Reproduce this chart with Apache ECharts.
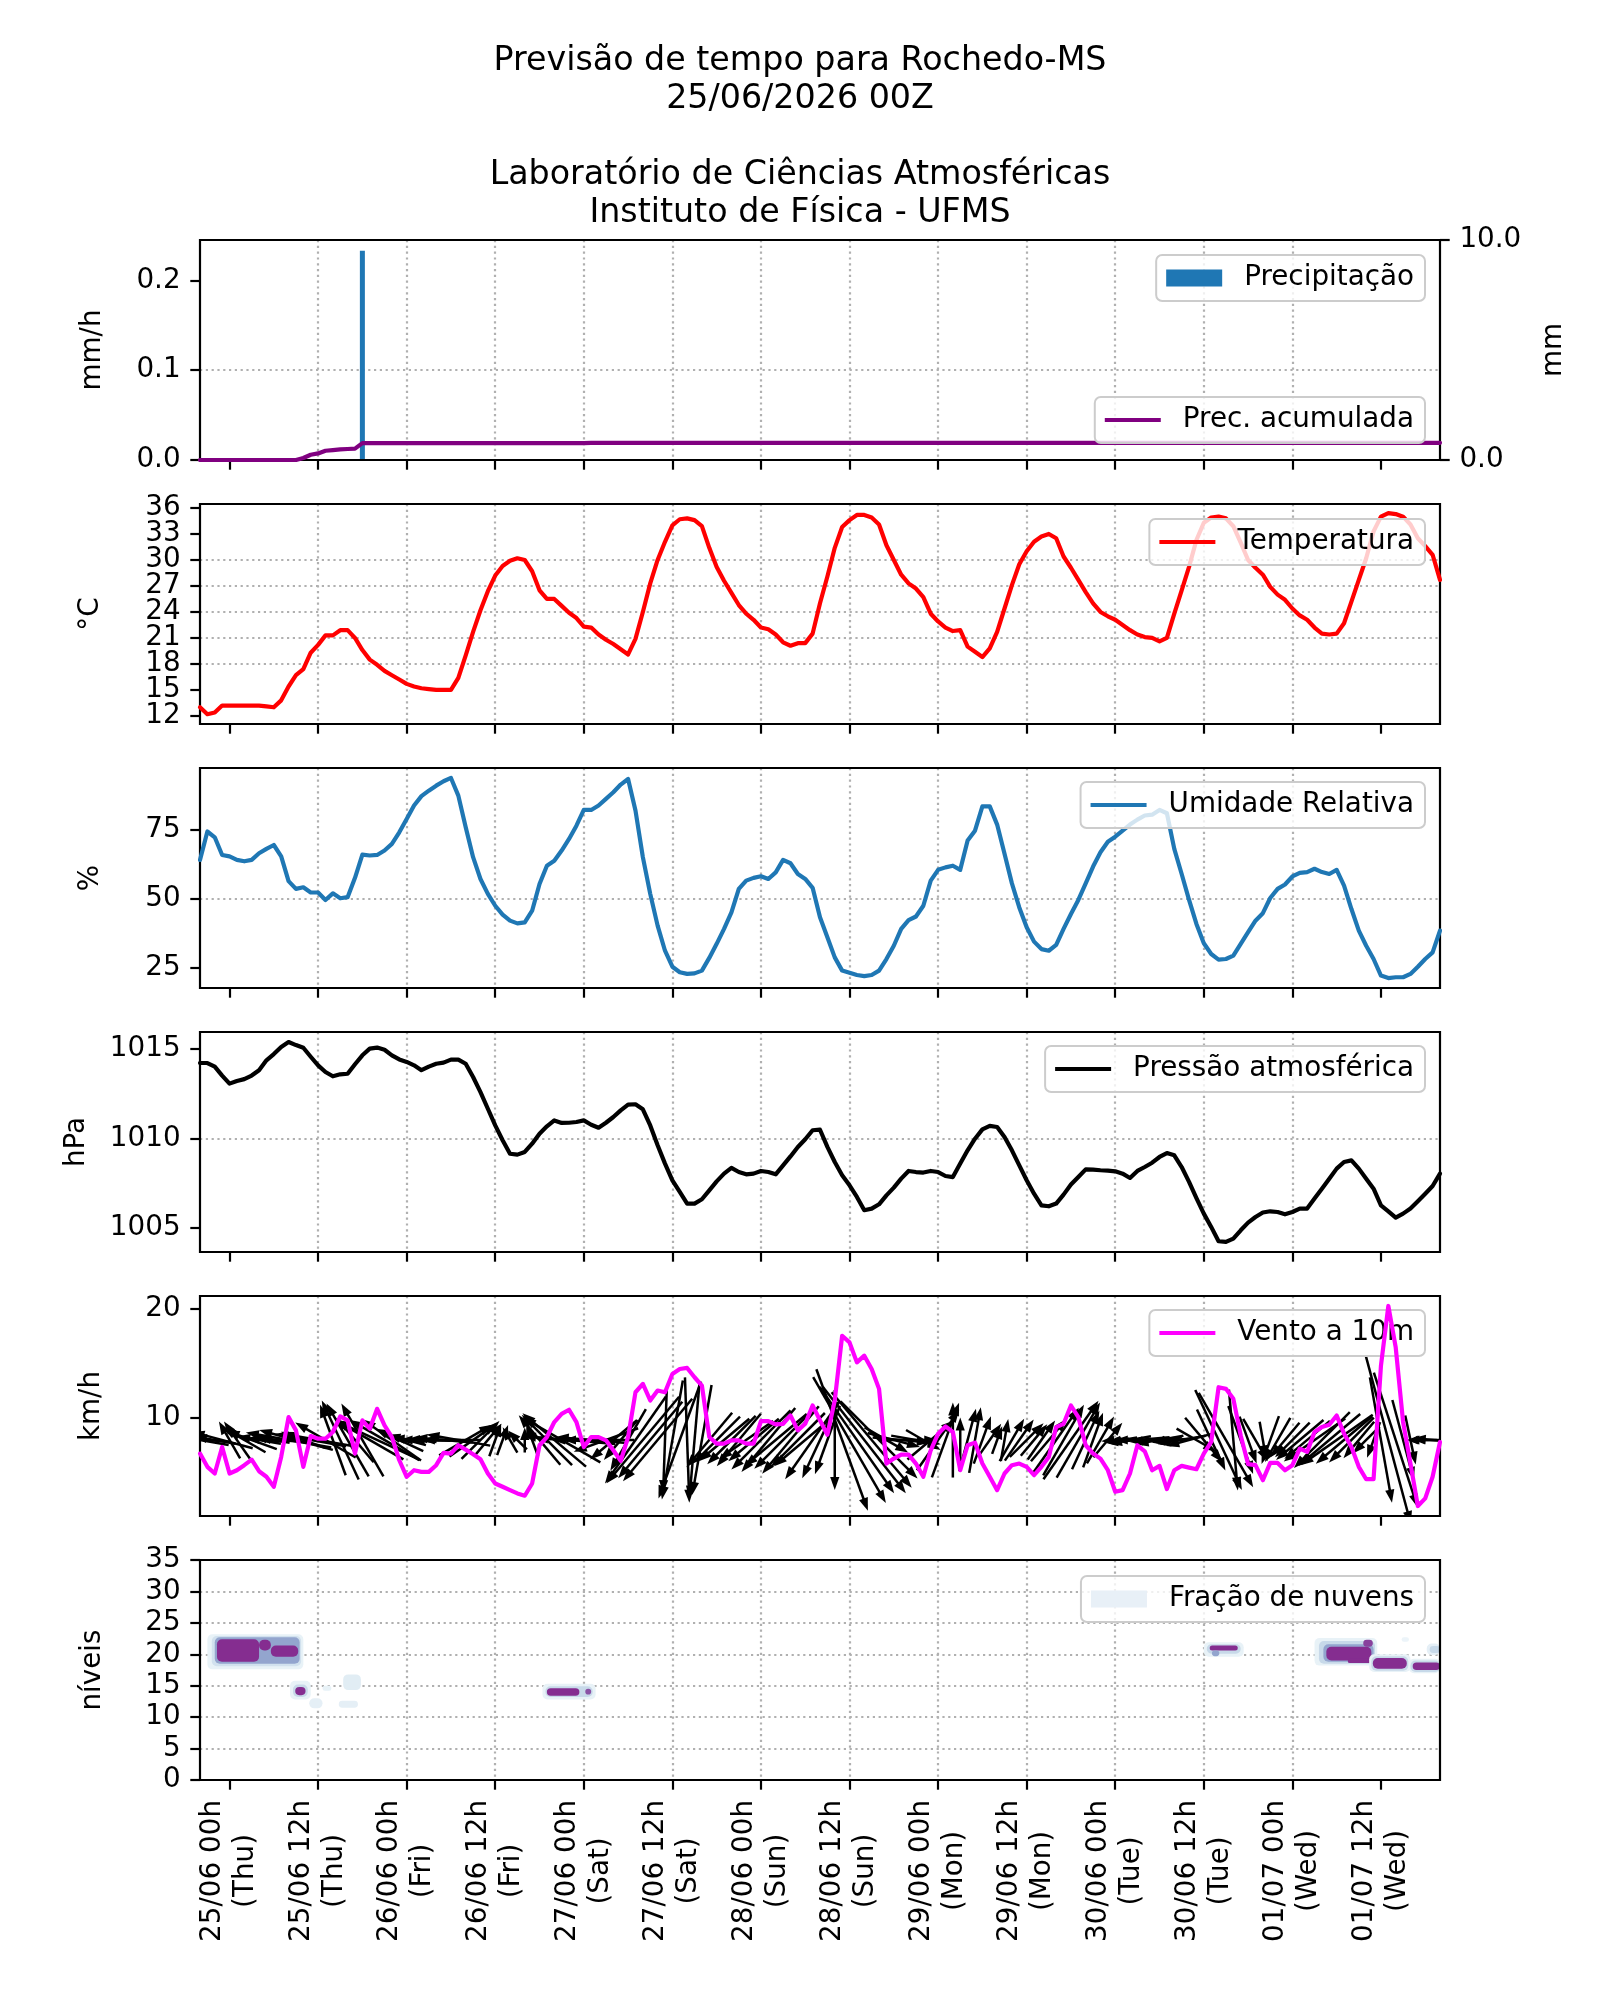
<!DOCTYPE html>
<html><head><meta charset="utf-8">
<script src="https://cdn.jsdelivr.net/npm/echarts@6/dist/echarts.min.js"></script>
<style>html,body{margin:0;padding:0;background:#fff}#c{width:1600px;height:2000px}</style>
</head><body><div id="c"></div>
<script>
// ---------- DATA (index = hours since 24/06 20h local) ----------
const xTickHours = [4,16,28,40,52,64,76,88,100,112,124,136,148,160];
const xTickDates = ['25/06 00h','25/06 12h','26/06 00h','26/06 12h','27/06 00h','27/06 12h','28/06 00h','28/06 12h','29/06 00h','29/06 12h','30/06 00h','30/06 12h','01/07 00h','01/07 12h'];
const xTickDays = ['(Thu)','(Thu)','(Fri)','(Fri)','(Sat)','(Sat)','(Sun)','(Sun)','(Mon)','(Mon)','(Tue)','(Tue)','(Wed)','(Wed)'];
const tempTicksA = [12,18,24,30,36];
const tempTicksB = [15,21,27,33];

const precipRate = [[22, 0.233]];               // [hour, mm/h]
const precipAccum = [[0,0],[13,0],[14,0.09],[15,0.24],[16,0.30],[17,0.42],[18,0.45],[19,0.48],[20,0.50],[21,0.52],[22,0.77],[52,0.77],[53,0.78],[168,0.78]];

const temperature = [13.0,12.2,12.4,13.2,13.2,13.2,13.2,13.2,13.2,13.1,13.0,13.8,15.4,16.7,17.4,19.3,20.2,21.3,21.3,21.9,
21.9,21.0,19.6,18.5,17.9,17.2,16.7,16.2,15.7,15.4,15.2,15.1,15.0,15.0,15.0,16.4,19.0,21.7,24.2,26.4,
28.2,29.3,29.9,30.2,30.0,28.7,26.5,25.5,25.5,24.7,23.9,23.3,22.3,22.2,21.4,20.8,20.3,19.7,19.1,20.9,
24.0,27.3,30.0,32.1,34.0,34.7,34.8,34.6,33.9,31.4,29.2,27.6,26.2,24.8,23.8,23.1,22.2,22.0,21.4,20.5,
20.1,20.4,20.4,21.5,25.0,28.1,31.4,33.8,34.6,35.2,35.2,34.9,34.1,31.7,30.0,28.3,27.3,26.7,25.7,23.8,
22.9,22.2,21.8,21.9,20.0,19.4,18.8,19.8,21.7,24.4,27.1,29.5,31.0,32.1,32.7,33.0,32.5,30.4,29.1,27.7,
26.3,25.0,24.0,23.5,23.1,22.5,21.9,21.4,21.1,21.0,20.6,21.0,23.8,26.5,29.2,32.3,34.3,34.9,35.0,34.8,
33.9,32.0,30.0,29.1,28.3,26.9,26.0,25.4,24.4,23.6,23.1,22.2,21.5,21.4,21.5,22.7,25.2,27.7,30.2,33.3,
35.0,35.4,35.3,35.0,34.1,32.5,31.6,30.6,27.7];

const humidity = [63.9,74.2,72.1,65.7,65.2,63.9,63.4,63.9,66.3,67.9,69.3,65.2,56.2,53.4,54.0,52.1,52.1,49.4,51.8,50.0,
50.4,57.4,65.8,65.5,65.7,67.3,69.7,73.9,78.7,83.6,87.0,89.0,90.8,92.4,93.6,87.2,75.7,64.9,57.0,51.6,
47.3,44.1,41.9,40.9,41.3,45.5,55.2,61.8,63.6,67.3,71.5,76.3,82.0,82.0,83.6,86.0,88.4,91.2,93.2,81.8,
64.9,51.6,40.1,31.0,25.2,23.2,22.6,22.8,23.8,28.4,33.5,38.9,44.9,53.4,56.4,57.4,58.0,57.0,59.4,63.9,
62.7,58.8,57.0,53.8,43.1,35.9,28.6,23.8,23.0,22.2,21.8,22.2,23.8,28.0,32.8,38.9,42.1,43.4,47.3,56.4,
60.3,61.2,61.8,60.3,70.9,74.5,83.3,83.3,76.7,66.1,55.4,46.7,39.5,34.3,31.6,31.0,33.1,38.9,44.3,49.4,
55.4,61.5,66.7,70.5,72.3,74.5,76.7,78.5,80.0,80.3,82.0,80.8,67.9,58.8,49.4,40.7,33.7,29.8,27.8,28.0,
29.2,33.5,37.7,41.9,44.6,50.1,53.4,55.0,57.9,59.2,59.5,60.7,59.5,58.8,60.3,54.6,46.1,38.3,32.8,28.0,
22.0,21.1,21.4,21.4,22.6,25.2,28.0,30.4,38.3];

const pressure = [1014.2,1014.2,1014.0,1013.5,1013.05,1013.2,1013.3,1013.5,1013.8,1014.35,1014.7,1015.1,1015.37,1015.2,1015.05,1014.55,1014.07,1013.7,1013.46,1013.57,
1013.6,1014.13,1014.63,1015.0,1015.06,1014.94,1014.63,1014.4,1014.26,1014.07,1013.8,1014.0,1014.16,1014.22,1014.39,1014.39,1014.16,1013.42,1012.58,1011.65,
1010.72,1009.89,1009.14,1009.09,1009.24,1009.7,1010.26,1010.67,1011.0,1010.86,1010.87,1010.91,1011.0,1010.76,1010.59,1010.87,1011.19,1011.56,1011.88,1011.9,
1011.62,1010.72,1009.61,1008.59,1007.66,1007.01,1006.36,1006.36,1006.6,1007.1,1007.6,1008.03,1008.35,1008.12,1007.99,1008.03,1008.18,1008.12,1007.99,1008.49,
1008.99,1009.52,1009.95,1010.45,1010.48,1009.52,1008.68,1007.94,1007.38,1006.73,1005.99,1006.08,1006.32,1006.82,1007.25,1007.75,1008.18,1008.12,1008.09,1008.18,
1008.12,1007.9,1007.84,1008.59,1009.33,1009.98,1010.5,1010.69,1010.63,1010.07,1009.33,1008.49,1007.66,1006.91,1006.26,1006.21,1006.36,1006.86,1007.42,1007.84,
1008.27,1008.25,1008.22,1008.2,1008.16,1008.03,1007.79,1008.18,1008.4,1008.64,1008.96,1009.18,1009.05,1008.4,1007.57,1006.67,1005.8,1005.06,1004.26,1004.22,
1004.41,1004.87,1005.3,1005.61,1005.86,1005.93,1005.89,1005.76,1005.89,1006.08,1006.08,1006.64,1007.19,1007.75,1008.31,1008.68,1008.77,1008.31,1007.75,1007.19,
1006.26,1005.93,1005.58,1005.8,1006.08,1006.49,1006.91,1007.34,1008.03];

const windSpeed = [6.76,5.55,4.94,7.36,4.94,5.24,5.7,6.21,5.15,4.64,3.73,6.45,10.09,8.88,5.55,8.36,8.12,8.12,8.73,10.15,
9.79,6.76,9.79,9.03,10.85,9.33,8.27,6.15,4.64,5.24,5.09,5.09,5.7,6.82,6.76,7.52,7.12,6.7,6.24,4.94,
4.03,3.73,3.42,3.12,2.91,4.03,7.52,8.27,9.64,10.39,10.76,9.64,7.36,8.27,8.27,7.97,7.06,6.09,8.27,12.36,
13.12,11.61,12.52,12.36,14.03,14.48,14.58,13.73,12.97,8.27,7.67,7.67,7.97,7.97,7.67,7.67,9.73,9.73,9.42,9.48,
10.24,8.88,9.48,11.15,9.79,8.48,11.61,17.52,16.91,15.09,15.7,14.48,12.67,5.85,6.3,6.67,6.67,5.85,4.64,7.06,
8.58,9.24,8.73,5.24,7.52,7.76,5.85,4.64,3.42,4.94,5.7,5.85,5.55,4.79,5.55,6.45,9.18,9.48,11.15,10.09,
7.52,6.76,6.3,5.24,3.27,3.42,4.94,7.52,6.97,5.24,5.64,3.52,5.24,5.64,5.48,5.33,6.76,7.82,12.82,12.67,
11.76,8.42,5.79,5.7,4.33,5.91,5.91,5.24,5.7,7.21,6.91,8.73,9.18,9.39,10.24,8.58,7.36,5.55,4.42,4.42,
14.79,20.24,16.45,9.64,5.85,1.97,2.67,4.64,7.82];

// meteorological direction the wind comes FROM (degrees)
const windDir = [100,95,100,105,150,145,120,110,100,95,100,95,100,105,110,100,100,120,160,155,
150,140,150,120,115,120,125,115,105,95,90,92,90,95,90,100,240,235,225,220,
200,200,150,135,180,160,140,135,130,120,95,92,90,95,90,70,50,40,30,35,
40,40,40,2,10,20,358,5,10,40,45,50,45,40,55,50,45,40,50,45,
40,45,50,35,25,20,0,340,330,325,322,320,315,300,285,275,270,280,300,230,
215,200,180,180,195,190,200,215,200,190,210,215,225,220,215,220,215,210,215,210,
205,200,210,220,85,80,80,85,90,85,80,80,85,80,75,300,320,335,335,330,
355,340,340,330,350,20,30,40,45,50,50,55,45,50,55,50,45,40,45,20,
350,345,342,345,348,85,90,95,90];

// cloud-fraction regions: [hourStart, hourEnd, levelLow, levelHigh, fraction]
const cloudRegions = [
 [1.0,14.0,17.6,23.2,0.08],[1.6,13.7,18.1,22.9,0.18],[2.0,13.5,18.5,22.7,0.45],
 [2.3,8.0,18.8,22.4,0.8],[8.0,9.6,20.6,22.3,0.8],[9.6,13.3,19.6,21.4,0.8],
 [12.2,15.0,12.8,15.8,0.08],[12.6,14.6,13.2,15.2,0.22],[12.9,14.3,13.5,14.8,0.8],
 [14.8,16.6,11.4,13.0,0.1],[18.8,21.4,11.5,12.6,0.1],[19.4,21.8,14.3,16.8,0.12],[16.6,17.8,14.2,15.0,0.08],
 [46.4,53.6,12.8,15.3,0.08],[46.8,53.2,13.2,14.9,0.22],[47.0,51.4,13.4,14.6,0.8],[52.2,53.0,13.6,14.5,0.7],
 [136.0,141.4,19.6,21.9,0.08],[136.4,141.0,20.1,21.6,0.22],[136.8,140.6,20.6,21.4,0.8],[137.1,138.1,19.7,20.6,0.45],
 [151.0,159.5,18.2,22.6,0.08],[151.6,159.2,18.5,22.1,0.22],[152.2,159.0,18.8,21.6,0.45],[152.6,158.7,19.0,21.2,0.8],
 [157.6,158.9,21.2,22.3,0.75],[155.5,158.8,18.6,19.3,0.8],
 [158.4,164.0,17.2,20.0,0.08],[158.7,163.7,17.4,19.7,0.22],[158.9,163.5,17.7,19.4,0.8],
 [163.8,168,17.0,19.3,0.08],[164.0,168,17.2,19.0,0.22],[164.3,168,17.5,18.7,0.8],
 [166.2,168,19.9,21.7,0.1],[166.6,168,20.2,21.3,0.22],[162.8,163.8,22.0,22.7,0.06]
];

// ---------- STYLE / LAYOUT ----------
const FF = 'DejaVu Sans';
const FS = 27.8;
const LEFT = 200, WIDTH = 1240, TOP0 = 240, STEP = 264, HEIGHT = 220;
const ARROW_Y = 8, ARROW_PX = 8.6;
const gridLine = {show:true, showMinLine:false, showMaxLine:false, lineStyle:{color:'#b0b0b0', width:2.2, type:[2.2,3.6]}};
const tick = {show:true, inside:false, length:9.7, lineStyle:{color:'#000', width:2.2}};

const BUPU = ['#f7fcfd','#e0ecf4','#bfd3e6','#9ebcda','#8c96c6','#8c6bb1','#88419d','#810f7c','#4d004b'];
function hex(c){return [parseInt(c.substr(1,2),16),parseInt(c.substr(3,2),16),parseInt(c.substr(5,2),16)];}
function bupu(t){
  t=Math.max(0,Math.min(1,t)); const p=t*(BUPU.length-1); const i=Math.min(BUPU.length-2,Math.floor(p)); const f=p-i;
  const a=hex(BUPU[i]), b=hex(BUPU[i+1]);
  return 'rgb('+a.map((v,k)=>Math.round(v+(b[k]-v)*f)).join(',')+')';
}

const grids=[], xAxes=[];
for(let i=0;i<6;i++){
  grids.push({left:LEFT, width:WIDTH, top:TOP0+STEP*i, height:HEIGHT, show:true, borderColor:'#000', borderWidth:2.2, backgroundColor:'transparent', z:3});
  xAxes.push({
    type:'value', gridIndex:i, min:0, max:168,
    axisLine:{show:false},
    axisTick:Object.assign({customValues:xTickHours}, tick),
    splitLine:gridLine,
    axisLabel:{
      show:i===5, customValues:xTickHours, rotate:90, margin:20,
      formatter:function(v){const k=xTickHours.indexOf(Math.round(v)); if(k<0) return ''; return '{a|'+xTickDates[k]+'}\n{a|'+xTickDays[k]+'}';},
      rich:{a:{align:'center', fontFamily:FF, fontSize:FS, lineHeight:33, color:'#000'}},
      fontFamily:FF, fontSize:FS, color:'#000'
    }
  });
}

function yax(gi, min, max, ticks, name, gap, fmt, extra){
  return Object.assign({
    type:'value', gridIndex:gi, min:min, max:max,
    axisLine:{show:false},
    axisTick:Object.assign({customValues:ticks}, tick),
    axisLabel:{customValues:ticks, margin:19.4, fontFamily:FF, fontSize:FS, lineHeight:18, color:'#000', formatter:fmt||function(v){return String(v);}},
    splitLine:gridLine,
    name:name, nameLocation:'middle', nameGap:gap,
    nameTextStyle:{fontFamily:FF, fontSize:FS, color:'#000'}
  }, extra||{});
}

const yAxes = [
  yax(0, 0, 0.245, [0,0.1,0.2], 'mm/h', 93, v=>v.toFixed(1)),
  yax(0, 0, 10, [0,10], 'mm', 100, v=>v.toFixed(1), {position:'right', splitLine:{show:false}}),
  yax(1, 11.07, 36.46, tempTicksA, '°C', 95),
  yax(2, 17.5, 97.2, [25,50,75], '%', 95),
  yax(3, 1003.66, 1015.93, [1005,1010,1015], 'hPa', 109),
  yax(4, 1.06, 21.15, [10,20], 'km/h', 94),
  yax(5, 0, 35, [0,5,10,15,20,25,30,35], 'níveis', 93),
  yax(1, 11.07, 36.46, tempTicksB, '', 95, null, {position:'left', offset:0})
];

function lg(name, top, iw, ih){
  return {data:[name], right:175, top:top, icon:'rect', itemWidth:iw, itemHeight:ih,
    padding:[8,11,8,10], backgroundColor:'rgba(255,255,255,0.8)', borderColor:'#cccccc', borderWidth:2, borderRadius:6,
    selectedMode:false, textStyle:{fontFamily:FF, fontSize:FS, color:'#000', lineHeight:30, padding:[0,0,0,17]}};
}
const legends = [
  lg('Precipitação', 255, 56, 17),
  lg('Prec. acumulada', 397, 56, 4.2),
  lg('Temperatura', TOP0+STEP*1+15, 56, 4.2),
  lg('Umidade Relativa', TOP0+STEP*2+14, 56, 4.2),
  lg('Pressão atmosférica', TOP0+STEP*3+14, 56, 4.2),
  lg('Vento a 10m', TOP0+STEP*4+14, 56, 4.2),
  lg('Fração de nuvens', TOP0+STEP*5+16, 56, 17)
];

function lineSeries(name, xi, yi, data, color, z){
  return {type:'line', name:name, xAxisIndex:xi, yAxisIndex:yi, data:data, color:color,
    symbol:'none', showSymbol:false, lineStyle:{color:color, width:4.2, join:'round', cap:'round'}, z:z||3, animation:false};
}
const idx = a => a.map((v,i)=>[i,v]);

const series = [
  {type:'bar', name:'Precipitação', xAxisIndex:0, yAxisIndex:0, data:precipRate, barWidth:5, color:'#1f77b4', itemStyle:{color:'#1f77b4'}, animation:false},
  lineSeries('Prec. acumulada', 0, 1, precipAccum, '#800080'),
  lineSeries('Temperatura', 1, 2, idx(temperature), '#ff0000'),
  lineSeries('Umidade Relativa', 2, 3, idx(humidity), '#1f77b4'),
  lineSeries('Pressão atmosférica', 3, 4, idx(pressure), '#000000'),
  {type:'custom', name:'arrows', xAxisIndex:4, yAxisIndex:5, z:2, animation:false, clip:true,
    dimensions:['h','dir','spd'], encode:{x:'h', y:'spd'},
    data: windDir.map((d,i)=>[i,d,windSpeed[i]]),
    renderItem:function(params, api){
      const h=api.value(0), d=api.value(1)*Math.PI/180, s=api.value(2);
      const c=api.coord([h, ARROW_Y]);
      const L=s*ARROW_PX;
      const ux=-Math.sin(d), uy=Math.cos(d);
      const tx=c[0]-ux*L/2, ty=c[1]-uy*L/2, px=c[0]+ux*L/2, py=c[1]+uy*L/2;
      const hl=Math.min(13, L*0.5), hw=4.6;
      const bx=px-ux*hl, by=py-uy*hl, nx=-uy, ny=ux;
      return {type:'group', children:[
        {type:'line', shape:{x1:tx,y1:ty,x2:bx+ux*1,y2:by+uy*1}, style:{stroke:'#000', lineWidth:2.5}},
        {type:'polygon', shape:{points:[[px,py],[bx+nx*hw,by+ny*hw],[bx-nx*hw,by-ny*hw]]}, style:{fill:'#000'}}
      ]};
    }},
  lineSeries('Vento a 10m', 4, 5, idx(windSpeed), '#ff00ff', 4),
  {type:'custom', name:'Fração de nuvens', xAxisIndex:5, yAxisIndex:6, z:2, animation:false, clip:true,
    itemStyle:{color:'#e8f0f7'}, color:'#e8f0f7',
    dimensions:['h0','h1','l0','l1','f'], encode:{x:['h0','h1'], y:['l0','l1']},
    data:cloudRegions,
    renderItem:function(params, api){
      const p0=api.coord([api.value(0), api.value(3)]), p1=api.coord([api.value(1), api.value(2)]);
      return {type:'rect', shape:{x:p0[0], y:p0[1], width:p1[0]-p0[0], height:p1[1]-p0[1], r:5}, style:{fill:bupu(api.value(4))}};
    }}
];

const chart = echarts.init(document.getElementById('c'), null, {width:1600, height:2000, renderer:'canvas'});
chart.setOption({
  backgroundColor:'#ffffff',
  animation:false,
  title:{text:'Previsão de tempo para Rochedo-MS\n25/06/2026 00Z\n\nLaboratório de Ciências Atmosféricas\nInstituto de Física - UFMS',
    left:'center', top:37,
    textStyle:{fontFamily:FF, fontSize:33.3, fontWeight:'normal', color:'#000', lineHeight:38, align:'center'}},
  grid:grids, xAxis:xAxes, yAxis:yAxes, legend:legends, series:series
});
</script></body></html>
